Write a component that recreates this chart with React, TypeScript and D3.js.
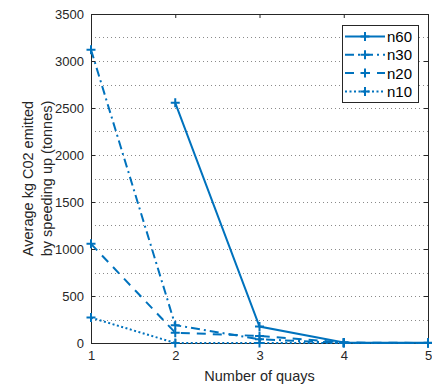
import { useEffect, useRef } from 'react';
import * as d3 from 'd3';

const quays = [1, 2, 3, 4, 5];
const seriesNames = ['n60', 'n30', 'n20', 'n10'];
const n60 = [null, 2555, 175, 5, 2];
const n30 = [3120, 190, 40, 0, 0];
const n20 = [1055, 110, 75, 5, 0];
const n10 = [270, 0, 0, 0, 0];
const yTicks = [0, 500, 1000, 1500, 2000, 2500, 3000, 3500];
const yGrid = d3.range(250, 3500, 250);

const DASHES: Record<string, string> = {
    n60: 'none',
    n30: '9,4,2,4',
    n20: '9,7',
    n10: '2,2.5',
};

export default function App() {
    const svgRef = useRef<SVGSVGElement>(null);

    useEffect(() => {
        if (!svgRef.current) return;
        const width = 432;
        const height = 387;
        const margin = { top: 14, right: 4, bottom: 44, left: 91 };
        const innerWidth = width - margin.left - margin.right;
        const innerHeight = height - margin.top - margin.bottom;
        const axisColor = '#262626';
        const blue = '#0072BD';

        const root = d3.select(svgRef.current);
        root.selectAll('*').remove();
        root.attr('width', width).attr('height', height);

        const svg = root
            .append('g')
            .attr('transform', `translate(${margin.left}, ${margin.top})`)
            .style('font-family', 'Liberation Sans, Arial, sans-serif');

        const x = d3.scaleLinear().domain([1, 5]).range([0, innerWidth]);
        const y = d3.scaleLinear().domain([0, 3500]).range([innerHeight, 0]);

        // Minor grid (dotted)
        svg
            .append('g')
            .selectAll('line')
            .data(yGrid)
            .enter()
            .append('line')
            .attr('x1', 0)
            .attr('x2', innerWidth)
            .attr('y1', (d) => Math.round(y(d)) + 0.5)
            .attr('y2', (d) => Math.round(y(d)) + 0.5)
            .attr('stroke', '#8a8a8a')
            .attr('stroke-width', 1)
            .attr('stroke-dasharray', '1,3');

        // Axes
        const bottom = svg
            .append('g')
            .attr('transform', `translate(0, ${innerHeight})`)
            .call(d3.axisBottom(x).tickValues(quays).tickFormat(d3.format('d')).tickSizeInner(-4).tickSizeOuter(0).tickPadding(8));
        const left = svg
            .append('g')
            .call(d3.axisLeft(y).tickValues(yTicks).tickFormat(d3.format('d')).tickSizeInner(-4).tickSizeOuter(0).tickPadding(7));
        const top = svg.append('g').call(d3.axisTop(x).tickValues(quays).tickSizeInner(-4).tickSizeOuter(0).tickFormat(() => ''));
        const right = svg
            .append('g')
            .attr('transform', `translate(${innerWidth}, 0)`)
            .call(d3.axisRight(y).tickValues(yTicks).tickSizeInner(-4).tickSizeOuter(0).tickFormat(() => ''));

        [bottom, left, top, right].forEach((g) => {
            g.attr('color', axisColor);
            g.selectAll('text').style('font-size', '13px').attr('fill', axisColor);
            g.select('.domain').attr('stroke-width', 1);
        });

        // Lines
        const allSeries = [n60, n30, n20, n10];
        const line = d3
            .line<number | null>()
            .defined((d) => d !== null)
            .x((_, i) => x(quays[i]))
            .y((d) => y(d as number));

        const plusPath = (cx: number, cy: number, s: number) =>
            `M${cx - s},${cy}H${cx + s}M${cx},${cy - s}V${cy + s}`;

        seriesNames.forEach((name, si) => {
            const vals = allSeries[si];
            svg
                .append('path')
                .datum(vals)
                .attr('d', line)
                .attr('fill', 'none')
                .attr('stroke', blue)
                .attr('stroke-width', 2)
                .attr('stroke-dasharray', DASHES[name]);
            svg
                .append('g')
                .selectAll('path')
                .data(vals.map((v, i) => ({ v, q: quays[i] })).filter((d) => d.v !== null))
                .enter()
                .append('path')
                .attr('d', (d) => plusPath(x(d.q), y(d.v as number), 4.5))
                .attr('stroke', blue)
                .attr('stroke-width', 2);
        });

        // Legend
        const lg = svg.append('g').attr('transform', `translate(${342 - margin.left}, ${25 - margin.top})`);
        lg.append('rect')
            .attr('x', 0.5)
            .attr('y', 0.5)
            .attr('width', 76)
            .attr('height', 77)
            .attr('fill', 'white')
            .attr('stroke', axisColor)
            .attr('stroke-width', 1);
        seriesNames.forEach((name, i) => {
            const cy = 11.5 + i * 18.3;
            lg.append('line')
                .attr('x1', 3)
                .attr('x2', 43)
                .attr('y1', cy)
                .attr('y2', cy)
                .attr('stroke', blue)
                .attr('stroke-width', 2)
                .attr('stroke-dasharray', DASHES[name]);
            lg.append('path').attr('d', plusPath(23, cy, 4.5)).attr('stroke', blue).attr('stroke-width', 2);
            lg.append('text')
                .attr('x', 45)
                .attr('y', cy)
                .attr('dy', '0.36em')
                .style('font-size', '15px')
                .attr('fill', '#000')
                .text(name);
        });

        // Axis labels
        svg.append('text')
            .attr('x', innerWidth / 2)
            .attr('y', innerHeight + 38)
            .attr('text-anchor', 'middle')
            .style('font-size', '14.5px')
            .attr('fill', axisColor)
            .text('Number of quays');

        const yl = svg
            .append('text')
            .attr('transform', `translate(${-58}, ${innerHeight / 2}) rotate(-90)`)
            .attr('text-anchor', 'middle')
            .style('font-size', '14.5px')
            .attr('fill', axisColor);
        yl.append('tspan').attr('x', 0).attr('y', 0).text('Average kg C02 emitted');
        yl.append('tspan').attr('x', 0).attr('y', 19).text('by speeding up (tonnes)');
    }, []);

    return (
        <div style={{ position: 'absolute', left: 0, top: 0 }}>
            <svg ref={svgRef} style={{ display: 'block' }}></svg>
        </div>
    );
}
